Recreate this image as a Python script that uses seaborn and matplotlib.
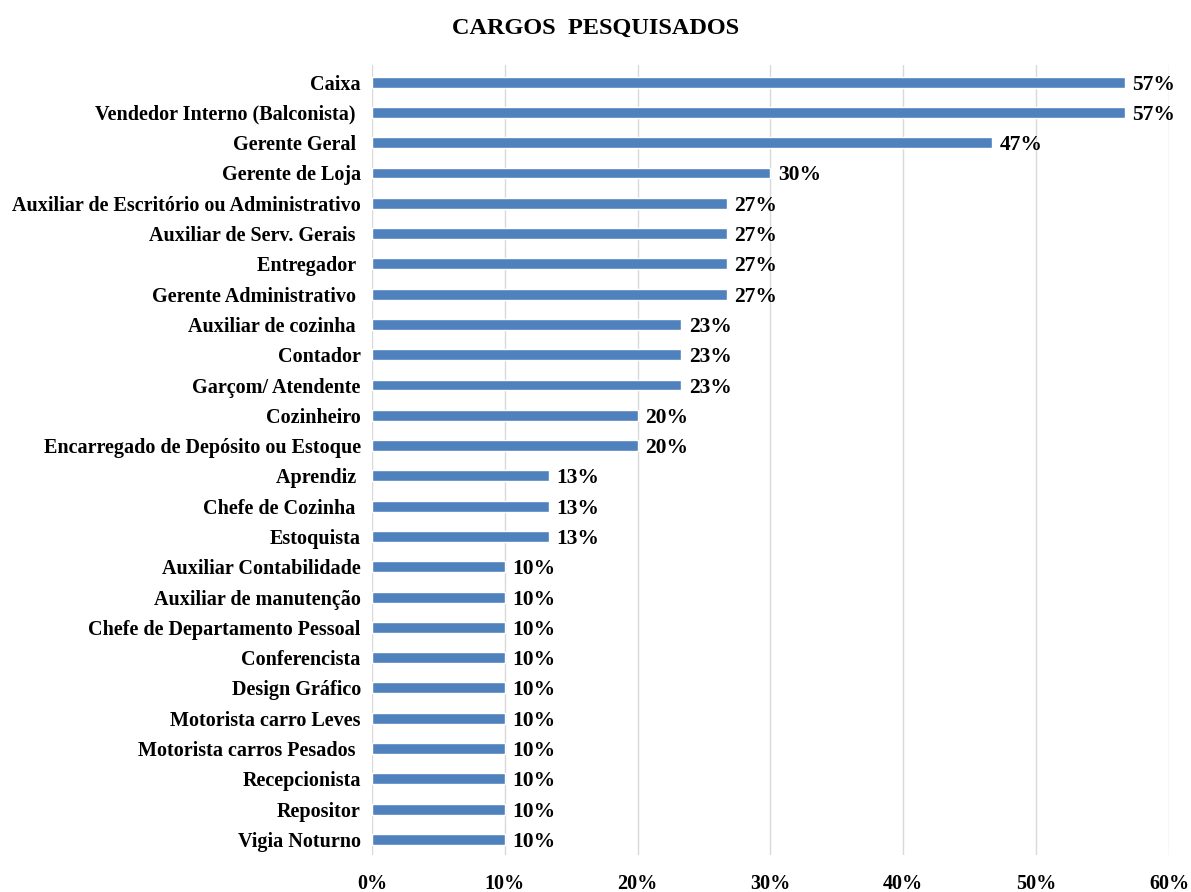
import pandas as pd
import matplotlib
matplotlib.use("Agg")
import matplotlib.pyplot as plt
import seaborn as sns
from matplotlib.ticker import FuncFormatter

cargos = ["Caixa", "Vendedor Interno (Balconista) ", "Gerente Geral ", "Gerente de Loja",
          "Auxiliar de Escritório ou Administrativo", "Auxiliar de Serv. Gerais ", "Entregador ",
          "Gerente Administrativo ", "Auxiliar de cozinha ", "Contador", "Garçom/ Atendente",
          "Cozinheiro", "Encarregado de Depósito ou Estoque", "Aprendiz ", "Chefe de Cozinha ",
          "Estoquista", "Auxiliar Contabilidade", "Auxiliar de manutenção",
          "Chefe de Departamento Pessoal", "Conferencista", "Design Gráfico",
          "Motorista carro Leves", "Motorista carros Pesados ", "Recepcionista", "Repositor",
          "Vigia Noturno"]
percentuais = [56.7, 56.7, 46.7, 30.0, 26.7, 26.7, 26.7, 26.7, 23.3, 23.3, 23.3,
               20.0, 20.0, 13.3, 13.3, 13.3, 10.0, 10.0, 10.0, 10.0, 10.0,
               10.0, 10.0, 10.0, 10.0, 10.0]

df = pd.DataFrame({"cargo": cargos, "pct": percentuais})

sns.set_theme(style="white")
plt.rcParams['font.family'] = ['Liberation Serif', 'DejaVu Serif']
plt.rcParams['font.weight'] = 'bold'
plt.rcParams['text.color'] = 'black'
plt.rcParams['xtick.color'] = 'black'
plt.rcParams['ytick.color'] = 'black'

fig, ax = plt.subplots(figsize=(11.91, 8.92), dpi=100)
fig.subplots_adjust(left=0.3123, right=0.9815, top=0.927, bottom=0.042)

sns.barplot(data=df, y="cargo", x="pct", color="#4F81BD", width=0.36,
            saturation=1, ax=ax, zorder=3)

# rótulos de dados
for i, v in enumerate(df["pct"]):
    ax.text(v + 0.55, i, f"{v:.0f}%", va="center_baseline", ha="left",
            fontsize=15.5, fontweight="bold", color="black")

ax.set_xlim(0, 60)
ax.set_xticks(range(0, 61, 10))
ax.xaxis.set_major_formatter(FuncFormatter(lambda x, p: f"{x:.0f}%"))
ax.grid(axis="x", color="#D9D9D9", linewidth=1, zorder=0)
ax.set_ylim(25.5, -0.56)
for s in ax.spines.values():
    s.set_visible(False)
ax.tick_params(axis="y", length=0, pad=8, labelsize=14.5)
ax.tick_params(axis="x", length=0, pad=14, labelsize=14.5)
for lbl in ax.get_yticklabels() + ax.get_xticklabels():
    lbl.set_fontweight("bold")
ax.set_xlabel("")
ax.set_ylabel("")
fig.suptitle("CARGOS  PESQUISADOS", fontsize=17.5, fontweight="bold", y=0.98)

plt.savefig("out.png", dpi=100)
